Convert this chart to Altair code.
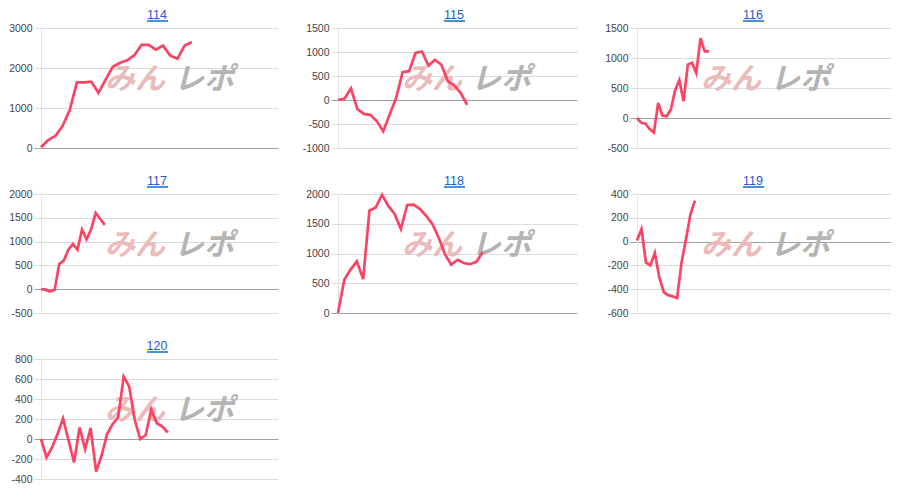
import altair as alt
import pandas as pd

# ---- data ----
machines = ["114", "115", "116", "117", "118", "119", "120"]

s114 = [20, 200, 300, 550, 950, 1640, 1640, 1660, 1380, 1710, 2030, 2130, 2190,
        2320, 2580, 2580, 2460, 2560, 2310, 2230, 2560, 2650]
s115 = [5, 25, 240, -190, -290, -310, -440, -650, -300, 40, 580, 600, 980, 1010,
        715, 840, 735, 390, 305, 145, -100]
s116 = [0, -80, -95, -185, -240, 250, 40, 30, 140, 460, 630, 280, 890, 920, 750,
        1330, 1110, 1110]
s117 = [0, -10, -50, -10, 530, 600, 830, 950, 830, 1250, 1050, 1260, 1600, 1475, 1350]
s118 = [0, 560, 730, 870, 570, 1720, 1775, 1985, 1800, 1665, 1410, 1815, 1820, 1750,
        1635, 1495, 1270, 990, 810, 895, 840, 820, 860, 1020]
s119 = [10, 105, -175, -200, -95, -300, -425, -450, -460, -475, -175, 20, 230, 345]
s120 = [0, -185, -85, 50, 205, -15, -235, 115, -100, 110, -325, -165, 50, 150, 215,
        625, 525, 195, 0, 40, 295, 160, 125, 65]

series = [s114, s115, s116, s117, s118, s119, s120]

# number of x slots on each panel's horizontal axis
x_slots = [33, 37, 60, 52, 38, 57, 43]

ticks114 = [0, 1000, 2000, 3000]
ticks115 = [-1000, -500, 0, 500, 1000, 1500]
ticks116 = [-500, 0, 500, 1000, 1500]
ticks117 = [-500, 0, 500, 1000, 1500, 2000]
ticks118 = [0, 500, 1000, 1500, 2000]
ticks119 = [-600, -400, -200, 0, 200, 400]
ticks120 = [-400, -200, 0, 200, 400, 600, 800]
y_ticks = [ticks114, ticks115, ticks116, ticks117, ticks118, ticks119, ticks120]

watermark_a = "みん"
watermark_b = "レポ"

# ---- styling ----
LINE = "#fc4363"
GRID = "#dcdcdc"
ZERO = "#a0a0a0"
LABEL_FONT = "Liberation Sans"
col_widths = [237, 239, 254]
row_heights = [120, 119, 120]


def panel(name, values, nslots, ticks, w, h):
    df = pd.DataFrame({"i": list(range(len(values))), "v": values})
    one = pd.DataFrame({"k": [0]})
    cond = lambda on, off: {"condition": {"test": "datum.value === 0", "value": on}, "value": off}

    line = alt.Chart(df).mark_line(color=LINE, strokeWidth=2.7).encode(
        x=alt.X("i:Q", scale=alt.Scale(domain=[0, nslots], nice=False, zero=False), axis=None),
        y=alt.Y(
            "v:Q",
            scale=alt.Scale(domain=[ticks[0], ticks[-1]], nice=False, zero=False),
            axis=alt.Axis(
                values=ticks,
                title=None,
                grid=True,
                gridColor=cond(ZERO, GRID),
                ticks=True,
                tickSize=7,
                tickColor=cond(ZERO, GRID),
                labelPadding=2,
                labelFont=LABEL_FONT,
                labelFontSize=10.5,
                labelColor="#444444",
                labelExpr="'' + datum.value",
                domain=True,
                domainColor="#e4e4e4",
            ),
        ),
    )

    wm1 = alt.Chart(one).mark_text(
        text=watermark_a, font="Noto Sans CJK JP", fontSize=30, fontWeight="bold",
        fontStyle="italic", color="#ebbaba", baseline="middle", align="center",
    ).encode(x=alt.value(94), y=alt.value(52))
    wm2 = alt.Chart(one).mark_text(
        text=watermark_b, font="Noto Sans CJK JP", fontSize=30, fontWeight="bold",
        fontStyle="italic", color="#b4b4b4", baseline="middle", align="center",
    ).encode(x=alt.value(163), y=alt.value(52))

    title = alt.Chart(one).mark_text(
        text=name, font=LABEL_FONT, fontSize=12.5, color="#1a5cc8",
        baseline="alphabetic", align="center",
    ).encode(x=alt.value(116), y=alt.value(-9.5))
    underline = alt.Chart(one).mark_rule(color="#4a8fe2", strokeWidth=2).encode(
        x=alt.value(106), x2=alt.value(127), y=alt.value(-7)
    )

    return alt.layer(wm1, wm2, line, title, underline).properties(width=w, height=h)


panels = []
for k in range(7):
    r, c = divmod(k, 3)
    panels.append(panel(machines[k], series[k], x_slots[k], y_ticks[k],
                        col_widths[c], row_heights[r]))

chart = (
    alt.concat(*panels, columns=3, spacing={"row": 46, "column": 60},
               bounds="flush", align="each")
    .properties(padding=0, background="white")
    .configure_view(stroke=None)
)

chart.save("out.html", embed_options={"renderer": "svg", "actions": False})
